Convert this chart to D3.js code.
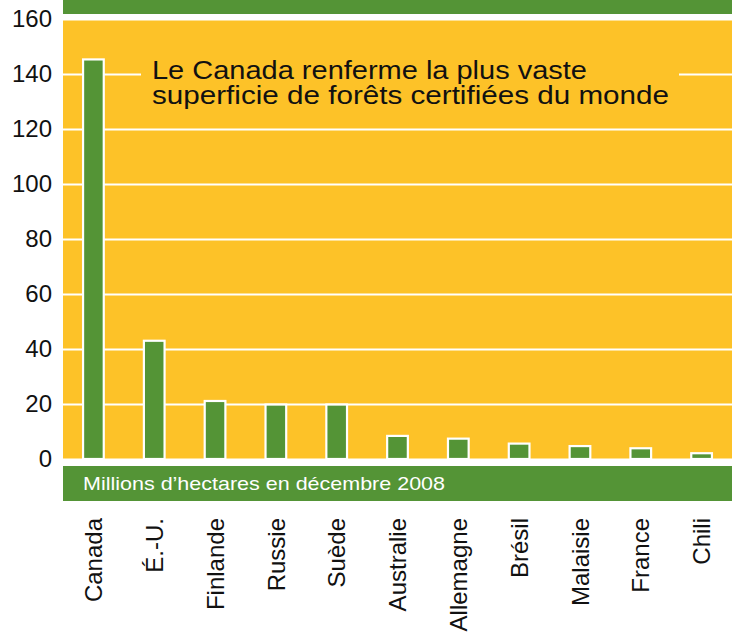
<!DOCTYPE html>
<html>
<head>
<meta charset="utf-8">
<script src="https://cdn.jsdelivr.net/npm/d3@7"></script>
<style>
  body { margin: 0; background: #fff; }
  svg { display: block; font-family: "Liberation Sans", Arial, sans-serif; }
</style>
</head>
<body>
<svg class="forets" width="734" height="638"></svg>
<script>
// data
const countries = ["Canada", "É.-U.", "Finlande", "Russie", "Suède", "Australie",
  "Allemagne", "Brésil", "Malaisie", "France", "Chili"];
const hectares = [145.3, 43, 21.1, 19.8, 19.8, 8.4, 7.4, 5.6, 4.7, 3.9, 2.1];
const yTicks = [0, 20, 40, 60, 80, 100, 120, 140, 160];
const titleLines = ["Le Canada renferme la plus vaste",
  "superficie de forêts certifiées du monde"];
const unitLabel = "Millions d’hectares en décembre 2008";

const YELLOW = "#fdc228";
const GREEN = "#549436";

var svg = d3.select("svg.forets"),
  plotLeft = 63,
  plotRight = 732,
  plotTop = 19,
  plotBottom = 459;

const data = countries.map((c, i) => ({ name: c, value: hectares[i] }));

const xScale = d3.scaleBand()
  .domain(countries)
  .range([plotLeft, plotRight])
  .paddingInner(0.66)
  .paddingOuter(0.33);

const yScale = d3.scaleLinear().domain([0, 160]).range([plotBottom, plotTop]);

// top green strip
svg.append("rect")
  .attr("x", plotLeft).attr("y", 0)
  .attr("width", plotRight - plotLeft).attr("height", 14)
  .attr("fill", GREEN);

// yellow plot panel
svg.append("rect")
  .attr("x", plotLeft).attr("y", plotTop)
  .attr("width", plotRight - plotLeft).attr("height", plotBottom - plotTop)
  .attr("fill", YELLOW);

// gridlines + y labels
const yAxis = d3.axisLeft(yScale)
  .tickValues(yTicks)
  .tickSize(-(plotRight - plotLeft))
  .tickPadding(11);

svg.append("g")
  .attr("class", "y axis")
  .attr("transform", `translate(${plotLeft},0)`)
  .call(yAxis)
  .call((g) => g.select(".domain").remove())
  .call((g) => g.selectAll(".tick line")
    .attr("stroke", "white")
    .attr("stroke-width", 2))
  .call((g) => g.selectAll(".tick text")
    .attr("fill", "#111")
    .attr("font-size", 24)
    .attr("font-family", "Liberation Sans, Arial, sans-serif"));

// hide the 140 gridline behind the annotation
svg.append("rect")
  .attr("x", 141).attr("y", yScale(140) - 3)
  .attr("width", 679 - 141).attr("height", 6)
  .attr("fill", YELLOW);

// annotation
svg.append("g")
  .selectAll("text")
  .data(titleLines)
  .enter()
  .append("text")
  .attr("x", 152)
  .attr("y", (d, i) => 78.5 + i * 25)
  .attr("font-size", 25)
  .attr("fill", "#111")
  .attr("textLength", (d, i) => [435, 517][i])
  .attr("lengthAdjust", "spacingAndGlyphs")
  .text((d) => d);

// white base strip under the bars
svg.append("rect")
  .attr("x", plotLeft).attr("y", plotBottom)
  .attr("width", plotRight - plotLeft).attr("height", 7)
  .attr("fill", "white");

// bars
svg.append("g")
  .selectAll("rect")
  .data(data)
  .enter()
  .append("rect")
  .attr("x", (d) => xScale(d.name))
  .attr("y", (d) => yScale(d.value))
  .attr("width", xScale.bandwidth())
  .attr("height", (d) => yScale(0) - yScale(d.value))
  .attr("fill", GREEN)
  .attr("stroke", "white")
  .attr("stroke-width", 2.2);

// green unit band
svg.append("rect")
  .attr("x", plotLeft).attr("y", 466)
  .attr("width", plotRight - plotLeft).attr("height", 35)
  .attr("fill", GREEN);

svg.append("text")
  .attr("x", 83)
  .attr("y", 490)
  .attr("font-size", 18.5)
  .attr("fill", "white")
  .attr("textLength", 362)
  .attr("lengthAdjust", "spacingAndGlyphs")
  .text(unitLabel);

// x labels, rotated
const xAxis = d3.axisBottom(xScale).tickSize(0);

svg.append("g")
  .attr("class", "x axis")
  .attr("transform", "translate(0,518)")
  .call(xAxis)
  .call((g) => g.select(".domain").remove())
  .call((g) => g.selectAll(".tick text")
    .attr("transform", "rotate(-90)")
    .attr("x", 0)
    .attr("y", 0)
    .attr("dy", "0.36em")
    .style("text-anchor", "end")
    .attr("fill", "#111")
    .attr("font-size", 24)
    .attr("font-family", "Liberation Sans, Arial, sans-serif"));
</script>
</body>
</html>
